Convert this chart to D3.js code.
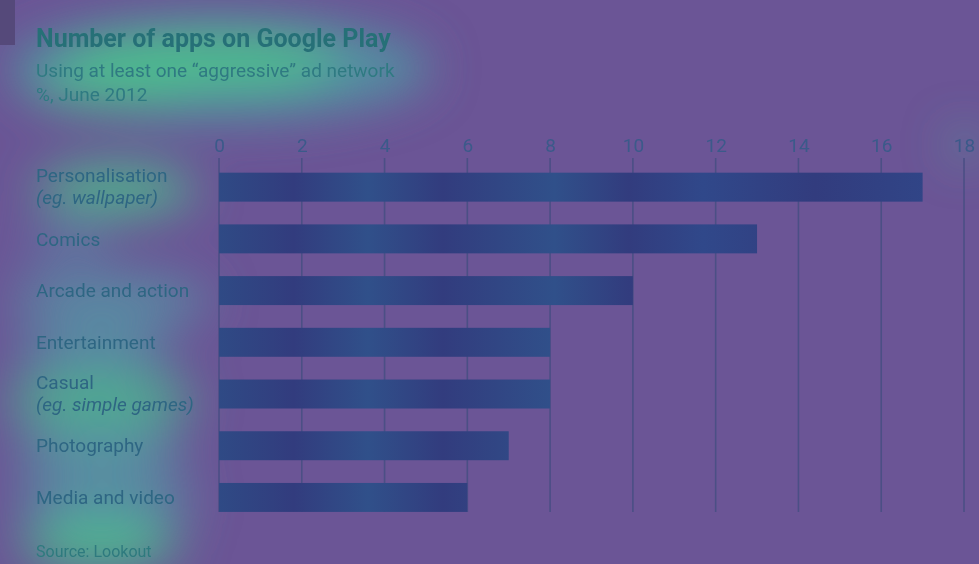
<!DOCTYPE html>
<html><head><meta charset="utf-8">
<script src="https://cdn.jsdelivr.net/npm/d3@7"></script>
<style>html,body{margin:0;padding:0;background:#6b5596;}svg{display:block;}</style>
</head><body>
<svg id="c" width="979" height="564"></svg>
<script>
const categories = ["Personalisation|(eg. wallpaper)", "Comics", "Arcade and action", "Entertainment", "Casual|(eg. simple games)", "Photography", "Media and video"];
const values = [17, 13, 10, 8, 8, 7, 6];
const tickValues = [0, 2, 4, 6, 8, 10, 12, 14, 16, 18];
const title = "Number of apps on Google Play";
const subtitle = "Using at least one \u201caggressive\u201d ad network";
const unitNote = "%, June 2012";
const source = "Source: Lookout";

const W = 979, H = 564;
const svg = d3.select("#c");
const font = "Roboto, 'Noto Sans', sans-serif";
const textCol = "#2e6683";

svg.append("rect").attr("width", W).attr("height", H).attr("fill", "#6b5596");

// soft glows (heat overlay look)
const defs = svg.append("defs");
defs.append("filter").attr("id", "blur").attr("x", "-50%").attr("y", "-50%").attr("width", "200%").attr("height", "200%")
  .append("feGaussianBlur").attr("stdDeviation", 24);
const glow = svg.append("g").attr("filter", "url(#blur)");
const glows = [
  [220, 68, 210, 50, "#5194a2", 0.95],
  [200, 62, 140, 30, "#4cbf8c", 0.9],
  [110, 92, 80, 18, "#4cbf8c", 0.75],
  [115, 190, 80, 26, "#4cb98c", 0.9],
  [70, 245, 45, 18, "#5a86a6", 0.7],
  [110, 300, 100, 26, "#5690a4", 0.9],
  [95, 350, 80, 24, "#5690a4", 0.85],
  [100, 400, 95, 28, "#4db08f", 0.95],
  [100, 450, 85, 26, "#5497a2", 0.9],
  [105, 500, 90, 26, "#5592a4", 0.9],
  [100, 545, 80, 24, "#4cbf8c", 0.95],
  [965, 145, 14, 14, "#4cae95", 0.8]
];
glow.selectAll("ellipse").data(glows).join("ellipse")
  .attr("cx", d => d[0]).attr("cy", d => d[1]).attr("rx", d => d[2]).attr("ry", d => d[3])
  .attr("fill", d => d[4]).attr("opacity", d => d[5]);

// corner tag
svg.append("rect").attr("x", 0).attr("y", 0).attr("width", 15).attr("height", 45).attr("fill", "#55497a");

const x = d3.scaleLinear().domain([0, 18]).range([219, 964]);
const y = d3.scaleBand().domain(categories).range([161.3, 523.3]).paddingInner(0.44).paddingOuter(0.22);

// grid lines
svg.append("g").selectAll("line").data(tickValues).join("line")
  .attr("x1", d => x(d)).attr("x2", d => x(d)).attr("y1", 158).attr("y2", 512)
  .attr("stroke", "#4b4f85").attr("stroke-width", 1.6);

// top axis labels
const ax = svg.append("g").attr("transform", "translate(0,152)")
  .call(d3.axisTop(x).tickValues(tickValues).tickSize(0).tickPadding(0).tickFormat(d3.format("d")));
ax.select(".domain").remove();
ax.selectAll("text").attr("font-family", font).attr("font-size", 19).attr("fill", "#3b5a8a").attr("dy", 0);

// bars
const grad = defs.append("linearGradient").attr("id", "bg").attr("gradientUnits", "userSpaceOnUse")
  .attr("x1", 219).attr("x2", 964).attr("y1", 0).attr("y2", 0);
[[0, "#2f4a85"], [0.1, "#323c7e"], [0.2, "#30508a"], [0.3, "#323c7e"], [0.45, "#30508a"], [0.55, "#323c7e"], [0.65, "#30488a"], [0.8, "#323c7e"], [1, "#30488a"]]
  .forEach(s => grad.append("stop").attr("offset", s[0]).attr("stop-color", s[1]));
svg.append("g").selectAll("rect").data(categories).join("rect")
  .attr("x", x(0)).attr("y", d => y(d)).attr("height", y.bandwidth())
  .attr("width", (d, i) => x(values[i]) - x(0))
  .attr("fill", "url(#bg)");

// category labels
const lab = svg.append("g").selectAll("text").data(categories).join("text")
  .attr("font-family", font).attr("font-size", 19).attr("fill", textCol)
  .attr("x", 36)
  .attr("y", d => y(d) + y.bandwidth() / 2);
lab.each(function(d) {
  const parts = d.split("|");
  const t = d3.select(this);
  if (parts.length === 1) {
    t.append("tspan").attr("dy", "0.35em").text(parts[0]);
  } else {
    t.append("tspan").attr("x", 36).attr("dy", "-0.25em").text(parts[0]);
    t.append("tspan").attr("x", 36).attr("dy", "1.15em").attr("font-style", "italic").text(parts[1]);
  }
});

// titles
svg.append("text").attr("x", 36).attr("y", 47).attr("font-family", font).attr("font-weight", 700)
  .attr("font-size", 25).attr("fill", "#267077").text(title);
svg.append("text").attr("x", 36).attr("y", 77).attr("font-family", font)
  .attr("font-size", 19).attr("fill", "#2f7a82").text(subtitle);
svg.append("text").attr("x", 36).attr("y", 101).attr("font-family", font)
  .attr("font-size", 19).attr("fill", "#2f7a82").text(unitNote);
svg.append("text").attr("x", 36).attr("y", 557).attr("font-family", font)
  .attr("font-size", 16).attr("fill", "#2e7a7e").text(source);
</script>
</body></html>
